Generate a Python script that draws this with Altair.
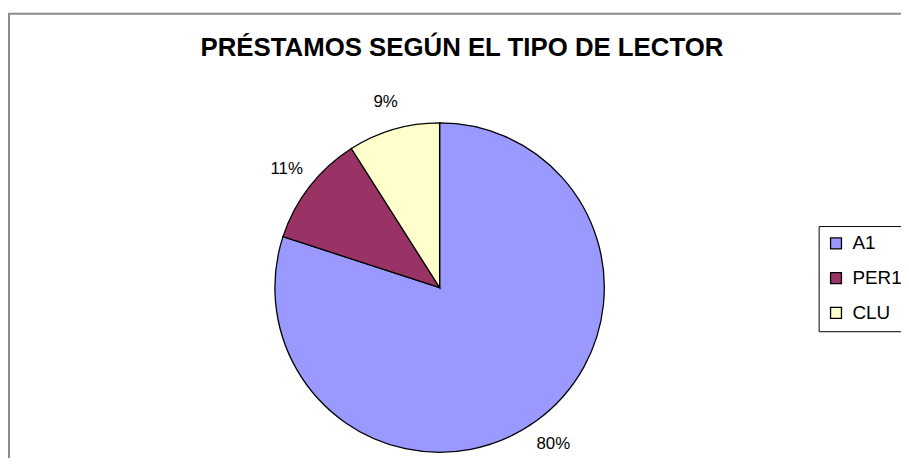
import altair as alt
import pandas as pd

# ---- data ----
categories = ["A1", "PER1", "CLU"]
shares = [0.80, 0.11, 0.09]
colors = ["#9999FF", "#993366", "#FFFFCC"]
title_text = "PRÉSTAMOS SEGÚN EL TIPO DE LECTOR"

df = pd.DataFrame({"tipo": categories, "share": shares, "orden": list(range(len(categories)))})
one_row = pd.DataFrame({"k": [0]})

FONT = "Liberation Sans"
W, H = 900, 450          # whole svg (padding 0, autosize none)
CX, CY = 435, 280        # pie centre
FRAME_Y = 4

base = alt.Chart(df).encode(
    theta=alt.Theta("share:Q", stack=True),
    order=alt.Order("orden:Q"),
)

pie = base.mark_arc(radius=166, stroke="black", strokeWidth=1.3).encode(
    x=alt.value(CX),
    y=alt.value(CY),
    color=alt.Color(
        "tipo:N",
        scale=alt.Scale(domain=categories, range=colors),
        legend=alt.Legend(
            orient="none",
            legendX=817,
            legendY=218,
            title=None,
            strokeColor="black",
            fillColor="white",
            padding=8,
            symbolType="square",
            symbolSize=121,
            symbolStrokeColor="black",
            symbolStrokeWidth=1.3,
            labelFontSize=19,
            labelFont=FONT,
            labelColor="black",
            rowPadding=15,
            labelOffset=7,
        ),
    ),
)

labels = base.mark_text(radius=195, fontSize=17, font=FONT, color="black").encode(
    x=alt.value(CX),
    y=alt.value(CY),
    text=alt.Text("share:Q", format=".0%"),
)

title = alt.Chart(one_row).mark_text(
    text=title_text,
    fontSize=26,
    font=FONT,
    fontWeight="bold",
    color="black",
    align="center",
    baseline="alphabetic",
).encode(x=alt.value(457.5), y=alt.value(47))

frame = alt.Chart(one_row).mark_rect(
    fillOpacity=0, stroke="#8c8c8c", strokeWidth=2
).encode(
    x=alt.value(1), x2=alt.value(W + 30), y=alt.value(FRAME_Y), y2=alt.value(H + 30)
)

chart = (
    alt.layer(frame, title, pie, labels)
    .properties(
        width=W,
        height=H,
        padding=0,
        autosize=alt.AutoSizeParams(type="none"),
    )
    .configure_view(stroke="transparent")
)

chart.save("out.html", embed_options={"renderer": "svg", "actions": False})
